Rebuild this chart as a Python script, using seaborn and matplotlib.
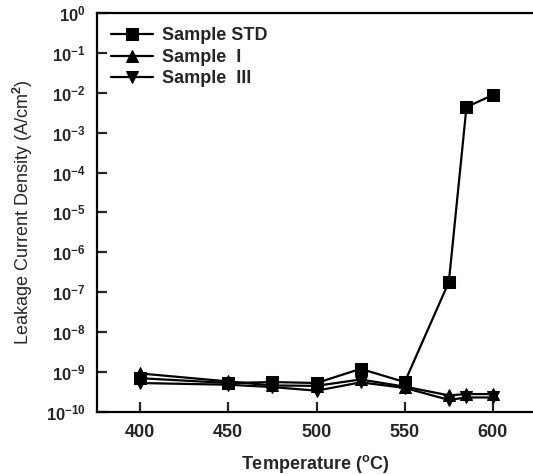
import numpy as np
import pandas as pd
import matplotlib
matplotlib.use("Agg")
import matplotlib.pyplot as plt
import seaborn as sns
from matplotlib.ticker import LogLocator, LogFormatterSciNotation

# data
temps = [400, 450, 475, 500, 525, 550, 575, 585, 600]
std = [7.0e-10, 5.3e-10, 5.6e-10, 5.3e-10, 1.2e-9, 5.6e-10, 1.8e-7, 4.4e-3, 8.8e-3]
sample_1 = [9.2e-10, 5.8e-10, 4.6e-10, 4.5e-10, 6.5e-10, 4.3e-10, 2.6e-10, 2.8e-10, 2.8e-10]
sample_3 = [5.3e-10, 4.8e-10, 4.2e-10, 3.4e-10, 5.5e-10, 4.0e-10, 2.0e-10, 2.3e-10, 2.3e-10]
labels = ["Sample STD", "Sample  I", "Sample  III"]

sns.set_style("ticks")
plt.rcParams["font.family"] = ["Liberation Sans", "DejaVu Sans"]
plt.rcParams["font.weight"] = "bold"
plt.rcParams["mathtext.fontset"] = "custom"
plt.rcParams["mathtext.rm"] = "Liberation Sans:bold"
plt.rcParams["mathtext.bf"] = "Liberation Sans:bold"
plt.rcParams["mathtext.default"] = "bf"
plt.rcParams["axes.unicode_minus"] = False

df = pd.DataFrame({
    "T": temps * 3,
    "J": std + sample_1 + sample_3,
    "Sample": np.repeat(labels, len(temps)),
})

fig = plt.figure(figsize=(5.33, 4.74), dpi=100)
ax = fig.add_axes([0.182, 0.131, 0.818, 0.8416])

sns.lineplot(data=df, x="T", y="J", hue="Sample", style="Sample",
             palette=["black"] * 3,
             markers={"Sample STD": "s", "Sample  I": "^", "Sample  III": "v"},
             dashes=False, markersize=8, linewidth=1.6, markeredgecolor="black", ax=ax)

ax.set_yscale("log")
ax.set_ylim(1e-10, 1)
ax.set_xlim(375.6, 622.7)
ax.set_xticks([400, 450, 500, 550, 600])
ax.yaxis.set_major_locator(LogLocator(base=10, numticks=12))
ax.yaxis.set_major_formatter(LogFormatterSciNotation())
ax.yaxis.set_minor_locator(plt.NullLocator())

for s in ["left", "bottom", "top"]:
    ax.spines[s].set_linewidth(1.6)
    ax.spines[s].set_color("black")
ax.spines["right"].set_visible(False)

ax.tick_params(axis="both", direction="in", length=7, width=1.6)
ax.tick_params(axis="x", pad=9, labelsize=13)
ax.tick_params(axis="y", pad=8, labelsize=12)

ax.set_xlabel(r"Temperature ($^{\mathrm{o}}$C)", fontsize=13, fontweight="bold", labelpad=8)
ax.set_ylabel(r"Leakage Current Density (A/cm$^{\mathrm{2}}$)", fontsize=13,
              fontweight="normal", labelpad=8)

leg = ax.legend(frameon=False, loc="upper left", fontsize=13, handlelength=2.3,
                borderaxespad=0.4, labelspacing=0.25, handletextpad=0.5,
                bbox_to_anchor=(0.0, 1.0))
for t in leg.get_texts():
    t.set_fontweight("bold")

fig.savefig("out.png", dpi=100)
